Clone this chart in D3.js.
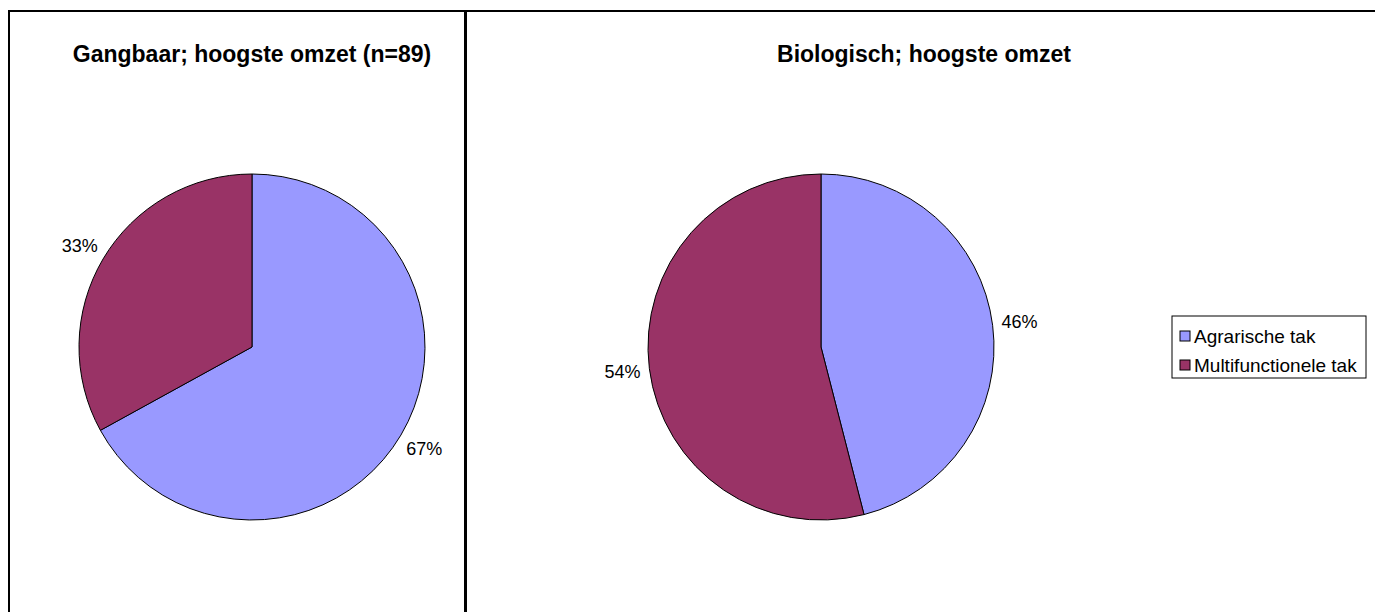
<!DOCTYPE html>
<html>
<head>
<meta charset="utf-8">
<script src="https://cdn.jsdelivr.net/npm/d3@7"></script>
<style>
  body { margin: 0; background: #fff; }
  text { font-family: "Liberation Sans", Arial, sans-serif; }
</style>
</head>
<body>
<svg id="chart" width="1375" height="612"></svg>
<script>
// data
const categories = ['Agrarische tak', 'Multifunctionele tak'];
const colors = ['#9999FF', '#993366'];
const titles = ['Gangbaar; hoogste omzet (n=89)', 'Biologisch; hoogste omzet'];
const gangbaarValues = [67, 33];
const biologischValues = [46, 54];

const svg = d3.select('#chart');

// panel frames
const panels = [
    { x: 9, w: 456, cx: 252, titleX: 252, values: gangbaarValues, title: titles[0] },
    { x: 466, w: 1000, cx: 821, titleX: 924, values: biologischValues, title: titles[1] }
];
const cy = 347;
const radius = 173;

panels.forEach(p => {
    svg.append('rect')
        .attr('x', p.x)
        .attr('y', 11)
        .attr('width', p.w)
        .attr('height', 700)
        .attr('fill', 'none')
        .attr('stroke', '#000')
        .attr('stroke-width', 2);
});

const pie = d3.pie().sort(null).value(d => d);
const arc = d3.arc().innerRadius(0).outerRadius(radius);
const labelArc = d3.arc().innerRadius(radius + 27).outerRadius(radius + 27);

panels.forEach(p => {
    svg.append('text')
        .attr('x', p.titleX)
        .attr('y', 62)
        .attr('text-anchor', 'middle')
        .attr('font-size', 23)
        .attr('font-weight', 'bold')
        .text(p.title);

    const g = svg.append('g')
        .attr('transform', `translate(${p.cx}, ${cy})`);

    const arcs = pie(p.values);

    g.selectAll('path')
        .data(arcs)
        .enter()
        .append('path')
        .attr('d', arc)
        .attr('fill', (d, i) => colors[i])
        .attr('stroke', '#000')
        .attr('stroke-width', 1);

    g.selectAll('text')
        .data(arcs)
        .enter()
        .append('text')
        .attr('transform', d => `translate(${labelArc.centroid(d)})`)
        .attr('text-anchor', 'middle')
        .attr('dy', '0.35em')
        .attr('font-size', 18)
        .text(d => d.data + '%');
});

// legend
const legend = svg.append('g').attr('transform', 'translate(1172, 316)');
legend.append('rect')
    .attr('width', 194)
    .attr('height', 62)
    .attr('fill', '#fff')
    .attr('stroke', '#000')
    .attr('stroke-width', 1);

categories.forEach((c, i) => {
    const y = 20 + i * 29;
    legend.append('rect')
        .attr('x', 8)
        .attr('y', y - 5)
        .attr('width', 10)
        .attr('height', 10)
        .attr('fill', colors[i])
        .attr('stroke', '#000')
        .attr('stroke-width', 1);
    legend.append('text')
        .attr('x', 22)
        .attr('y', y)
        .attr('dy', '0.35em')
        .attr('font-size', 19)
        .text(c);
});
</script>
</body>
</html>
